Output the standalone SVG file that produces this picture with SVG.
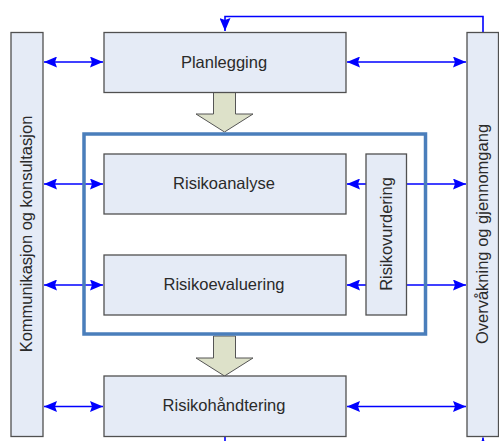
<svg xmlns="http://www.w3.org/2000/svg" width="499" height="441" viewBox="0 0 499 441">
  <style>
    .box { fill: #e5ebf6; stroke: #505050; stroke-width: 1.3; }
    .lbl { font-family: "Liberation Sans", Arial, sans-serif; font-size: 16.5px; fill: #2a2a2a; text-anchor: middle; }
    .link { fill: none; stroke: #0000ff; stroke-width: 1.6; }
    .flow { fill: #dde1c9; stroke: #555555; stroke-width: 1; }
    .frame { fill: none; stroke: #4a7ebb; stroke-width: 3.5; }
  </style>
  <defs>
    <marker id="ah" markerUnits="userSpaceOnUse" markerWidth="14" markerHeight="11" refX="13" refY="5.5" orient="auto-start-reverse">
      <path d="M0,0 L13,5.5 L0,11 L2,5.5 Z" fill="#0000ff"/>
    </marker>
  </defs>

  <!-- connectors -->
  <g id="connectors">
    <!-- feedback from monitoring back to planning -->
    <path class="link" d="M483,32.5 V16.5 H225 V31" marker-end="url(#ah)"/>
    <!-- feedback below the treatment box -->
    <path class="link" d="M225,436.5 V441"/>
    <path class="link" d="M483,445 V437.5" marker-end="url(#ah)"/>
    <!-- communication column links -->
    <path class="link" d="M44,62 H103" marker-start="url(#ah)" marker-end="url(#ah)"/>
    <path class="link" d="M44,184 H103" marker-start="url(#ah)" marker-end="url(#ah)"/>
    <path class="link" d="M44,285 H103" marker-start="url(#ah)" marker-end="url(#ah)"/>
    <path class="link" d="M44,406.5 H103" marker-start="url(#ah)" marker-end="url(#ah)"/>
    <!-- monitoring column links -->
    <path class="link" d="M347,62 H466" marker-start="url(#ah)" marker-end="url(#ah)"/>
    <path class="link" d="M347,406.5 H466" marker-start="url(#ah)" marker-end="url(#ah)"/>
    <!-- risk assessment links -->
    <path class="link" d="M366,184 H347" marker-end="url(#ah)"/>
    <path class="link" d="M366,285 H347" marker-end="url(#ah)"/>
    <path class="link" d="M407,184 H466" marker-end="url(#ah)"/>
    <path class="link" d="M407,285 H466" marker-end="url(#ah)"/>
    <!-- process flow arrows -->
    <path class="flow" d="M213.5,92.5 H235.5 V114 H253 L224.5,132 L196,114 H213.5 Z"/>
    <path class="flow" d="M213.5,336 H235.5 V358 H253 L224.5,376 L196,358 H213.5 Z"/>
  </g>

  <!-- risk assessment frame -->
  <rect id="assessment-frame" class="frame" x="84" y="134" width="341.5" height="200"/>

  <g id="communication">
    <rect class="box" x="11" y="32.5" width="32" height="404"/>
    <text class="lbl" transform="translate(32,234) rotate(-90)">Kommunikasjon og konsultasjon</text>
  </g>

  <g id="monitoring">
    <rect class="box" x="467" y="32.5" width="31.5" height="404"/>
    <text class="lbl" transform="translate(487.5,234) rotate(-90)">Overvåkning og gjennomgang</text>
  </g>

  <g id="planning">
    <rect class="box" x="104" y="32.5" width="242" height="60"/>
    <text class="lbl" x="224" y="67.5">Planlegging</text>
  </g>

  <g id="analysis">
    <rect class="box" x="104" y="154" width="242" height="60"/>
    <text class="lbl" x="224" y="189">Risikoanalyse</text>
  </g>

  <g id="evaluation">
    <rect class="box" x="104" y="255" width="242" height="60"/>
    <text class="lbl" x="224" y="290">Risikoevaluering</text>
  </g>

  <g id="assessment">
    <rect class="box" x="366" y="154" width="40.5" height="161"/>
    <text class="lbl" transform="translate(392,234) rotate(-90)">Risikovurdering</text>
  </g>

  <g id="treatment">
    <rect class="box" x="104" y="376" width="242" height="60.5"/>
    <text class="lbl" x="224" y="411">Risikohåndtering</text>
  </g>
</svg>
